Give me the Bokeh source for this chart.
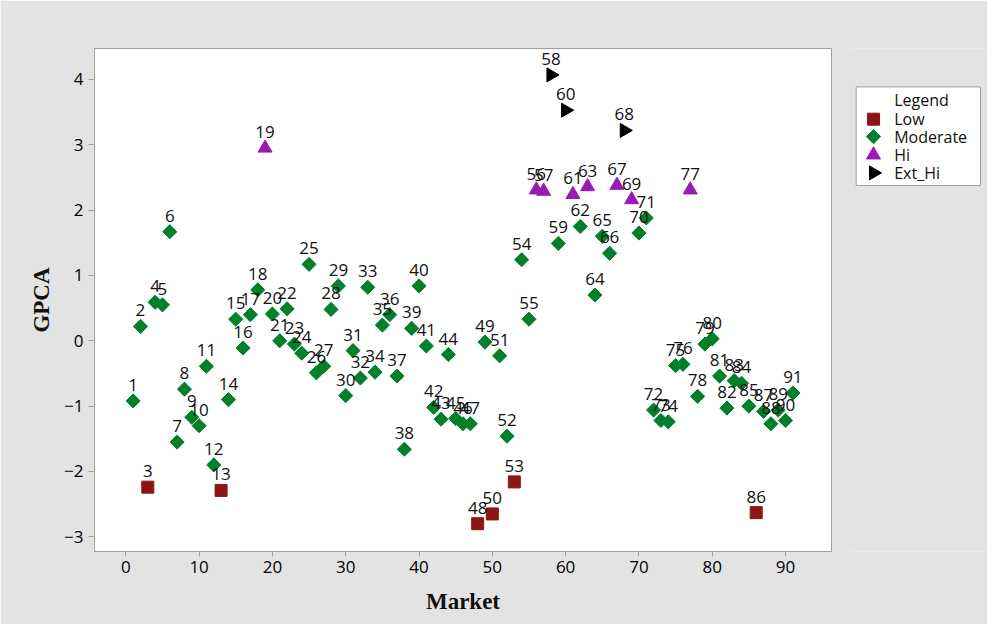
import math
from bokeh.plotting import figure
from bokeh.models import ColumnDataSource, Range1d, FixedTicker
from bokeh.layouts import row
from bokeh.embed import file_html
from bokeh.resources import INLINE
from bokeh.core.properties import value

# ---------------- data ----------------
market = [1, 2, 3, 4, 5, 6, 7, 8, 9, 10, 11, 12, 13, 14, 15, 16, 17, 18, 19, 20,
          21, 22, 23, 24, 25, 26, 27, 28, 29, 30, 31, 32, 33, 34, 35, 36, 37, 38, 39, 40,
          41, 42, 43, 44, 45, 46, 47, 48, 49, 50, 51, 52, 53, 54, 55, 56, 57, 58, 59, 60,
          61, 62, 63, 64, 65, 66, 67, 68, 69, 70, 71, 72, 73, 74, 75, 76, 77, 78, 79, 80,
          81, 82, 83, 84, 85, 86, 87, 88, 89, 90, 91]
gpca = [-0.92, 0.22, -2.24, 0.59, 0.55, 1.67, -1.55, -0.74, -1.17, -1.30,
        -0.39, -1.90, -2.29, -0.90, 0.33, -0.11, 0.40, 0.78, 2.95, 0.41,
        0.00, 0.49, -0.05, -0.19, 1.17, -0.49, -0.39, 0.48, 0.84, -0.84,
        -0.15, -0.57, 0.82, -0.48, 0.24, 0.40, -0.54, -1.66, 0.19, 0.84,
        -0.08, -1.02, -1.20, -0.21, -1.19, -1.27, -1.27, -2.80, -0.02, -2.65,
        -0.23, -1.46, -2.16, 1.24, 0.33, 2.31, 2.29, 4.07, 1.49, 3.53,
        2.24, 1.75, 2.36, 0.70, 1.60, 1.34, 2.38, 3.22, 2.16, 1.65,
        1.88, -1.06, -1.22, -1.24, -0.38, -0.36, 2.31, -0.85, -0.05, 0.03,
        -0.54, -1.03, -0.61, -0.65, -1.00, -2.63, -1.08, -1.27, -1.06, -1.22,
        -0.80]
low_markets = [3, 13, 48, 50, 53, 86]
hi_markets = [19, 56, 57, 61, 63, 67, 69, 77]
ext_hi_markets = [58, 60, 68]
legend_labels = ["Low", "Moderate", "Hi", "Ext_Hi"]
x_ticks = [0, 10, 20, 30, 40, 50, 60, 70, 80, 90]
y_ticks = [-3, -2, -1, 0, 1, 2, 3, 4]


def group_of(m):
    if m in low_markets:
        return "Low"
    if m in hi_markets:
        return "Hi"
    if m in ext_hi_markets:
        return "Ext_Hi"
    return "Moderate"


groups = [group_of(m) for m in market]

# ---------------- styling ----------------
BG = "#E3E3E3"
AXC = "#A0A0A0"
FONT = "Open Sans"
style = {
    "Low": dict(marker="square", size=12, angle=0.0, color="#8C1515"),
    "Moderate": dict(marker="square", size=10, angle=math.pi / 4, color="#00802B"),
    "Hi": dict(marker="triangle", size=14, angle=0.0, color="#9A1AB5"),
    "Ext_Hi": dict(marker="triangle", size=14, angle=-math.pi / 2, color="#000000"),
}

p = figure(width=851, height=624,
           x_range=Range1d(-4.27, 96.27), y_range=Range1d(-3.225, 4.474),
           output_backend="svg", toolbar_location=None,
           min_border_left=94, min_border_right=20,
           min_border_top=48, min_border_bottom=73)
p.background_fill_color = "white"
p.border_fill_color = BG
p.outline_line_color = AXC
p.xgrid.visible = False
p.ygrid.visible = False

for g in legend_labels:
    xs = [m for m, gg in zip(market, groups) if gg == g]
    ys = [v for v, gg in zip(gpca, groups) if gg == g]
    st = style[g]
    p.scatter(x=xs, y=ys, marker=st["marker"], size=st["size"], angle=st["angle"],
              fill_color=st["color"], line_color=st["color"])

lab_src = ColumnDataSource(dict(x=market, y=gpca, t=[str(m) for m in market]))
p.text(x="x", y="y", text="t", source=lab_src, text_align="center",
       text_baseline="alphabetic", y_offset=-16,
       text_font=value(FONT), text_font_size="17px", text_color="#111111")

for ax in (p.xaxis[0], p.yaxis[0]):
    ax.axis_line_color = AXC
    ax.major_tick_line_color = AXC
    ax.major_tick_in = 0
    ax.minor_tick_line_color = None
    ax.major_label_text_font = FONT
    ax.major_label_text_font_size = "17px"
    ax.major_label_text_color = "#000000"
    ax.axis_label_text_font = "Liberation Serif"
    ax.axis_label_text_font_style = "bold"
    ax.axis_label_text_font_size = "23px"
    ax.axis_label_text_color = "#111111"

p.xaxis.ticker = FixedTicker(ticks=x_ticks)
p.yaxis.ticker = FixedTicker(ticks=y_ticks)
p.xaxis.major_tick_out = 5
p.yaxis.major_tick_out = 6
p.xaxis.major_label_standoff = 4
p.yaxis.major_label_standoff = 5
p.xaxis.axis_label = "Market"
p.yaxis.axis_label = "GPCA"
p.xaxis.axis_label_standoff = 13
p.yaxis.axis_label_standoff = 7

# ---------------- legend panel ----------------
lw, lh = 137, 624
leg = figure(width=lw, height=lh, x_range=Range1d(-1, lw - 1), y_range=Range1d(lh, 0),
             output_backend="svg", toolbar_location=None,
             x_axis_location=None, y_axis_location=None,
             min_border_left=0, min_border_right=0, min_border_top=0, min_border_bottom=0)
leg.margin = (0, 0, 0, -1)
leg.background_fill_color = BG
leg.border_fill_color = BG
leg.outline_line_color = None
leg.xgrid.visible = False
leg.ygrid.visible = False

leg.quad(left=[4.7], right=[129], top=[47.7], bottom=[170],
         fill_color="white", line_color=AXC, line_width=1)
row_y = [87.7, 109.3, 132.0, 154.3]
for g, yy in zip(legend_labels, row_y):
    st = style[g]
    leg.scatter(x=[22], y=[yy], marker=st["marker"], size=st["size"], angle=st["angle"],
                fill_color=st["color"], line_color=st["color"])
leg.text(x=[42.7] * 5, y=[63.7] + row_y, text=["Legend"] + legend_labels,
         text_align="left", text_baseline="middle",
         text_font=value(FONT), text_font_size="16px", text_color="#111111")

layout = row(p, leg)
open("out.html", "w").write(file_html(layout, INLINE))
